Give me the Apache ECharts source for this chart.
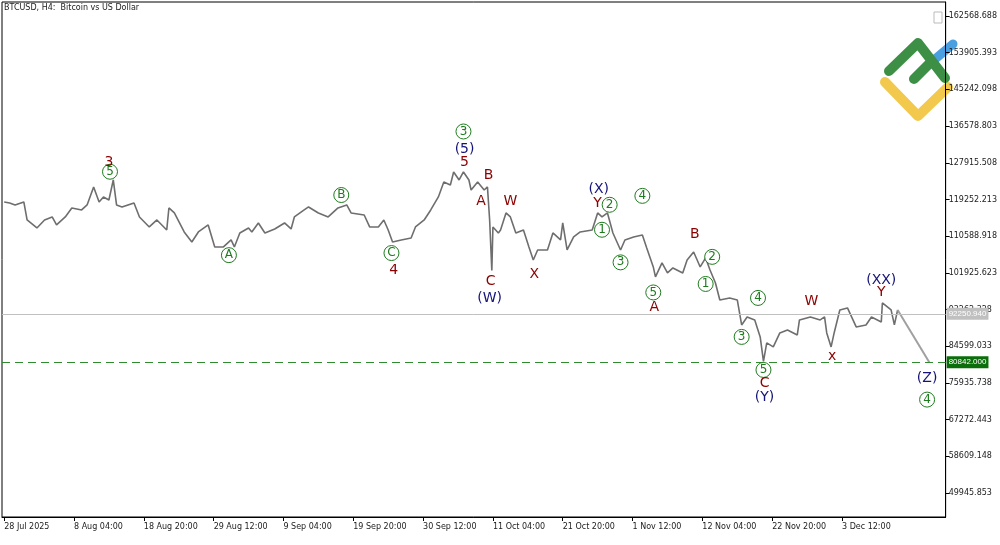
<!DOCTYPE html>
<html><head><meta charset="utf-8">
<script src="https://cdn.jsdelivr.net/npm/echarts@6/dist/echarts.min.js"></script>
<style>html,body{margin:0;padding:0;background:#fff}#c{width:1000px;height:545px}</style>
</head><body><div id="c"></div>
<script>
// bar index (H4 bars from 28 Jul 2025 00:00)
const barIdx = [0,5,10,18,21,30,37,44,48,56,62,71,76,82,87,91,96,100,103,108,119,124,133,140,149,151,156,165,172,178,187,193,201,208,211,216,224,227,233,239,248,257,263,266,275,279,288,297,306,314,318,330,335,343,348,352,356,364,373,377,385,391,398,403,409,412,417,421,426,428,434,440,443,445,447,448,453,455,460,464,469,476,481,485,489,498,503,510,512,516,522,528,539,544,548,553,558,565,569,577,585,589,595,597,603,608,613,622,626,632,638,643,647,652,656,665,672,676,681,688,693,696,699,705,711,718,727,729,739,748,752,754,758,761,766,773,781,790,795,804,805,813,816,819];
const closes = [118662,118426,117954,118662,114413,112525,114413,115122,113233,115122,117246,116774,117954,122203,118662,119842,119134,123855,117954,117482,118426,115122,112761,114413,112052,117246,116066,111580,109220,111580,113233,108039,108039,109692,108039,111344,112525,111580,113705,111344,112290,113705,112290,115122,116774,117482,116066,115122,117246,117954,116066,115594,112761,112761,114413,112052,109220,109692,110164,112761,114413,116774,119842,123383,122675,125743,123855,125743,123855,121494,123383,121494,122203,114413,102500,112761,111344,112052,116066,115122,111344,112052,108039,104971,107331,107331,111344,109692,113705,107331,110400,111580,112052,116066,115122,116066,111344,107331,109692,110400,110872,107803,103319,100958,104263,101902,103083,101902,104971,106859,103319,105443,102610,99541,95529,96001,95529,89627,91516,90807,86795,81000,85379,84435,87739,88447,87267,90807,91516,90807,91516,87739,84435,87975,93168,93640,89155,89627,91516,90335,94821,93168,89627,93168];
const lastPrice = 92250.940;
const targetPrice = 80842.000;
const projection = [[819, 93168], [848, 80842]];
const priceTicks = [49945.853,58609.148,67272.443,75935.738,84599.033,93262.328,101925.623,110588.918,119252.213,127915.508,136578.803,145242.098,153905.393,162568.688];
const timeTicks = [0,64,128,192,256,320,384,448,512,576,640,704,768];
const timeLabels = ['28 Jul 2025','8 Aug 04:00','18 Aug 20:00','29 Aug 12:00','9 Sep 04:00','19 Sep 20:00','30 Sep 12:00','11 Oct 04:00','21 Oct 20:00','1 Nov 12:00','12 Nov 04:00','22 Nov 20:00','3 Dec 12:00'];
// wave labels: [barIdx, price, text, kind]  kind: r=red, b=blue, g=circled green
const waves = [
 [96,128100,'3','r'],[97,125800,'5','g'],
 [206,106100,'A','g'],[309,120300,'B','g'],[355,106600,'C','g'],[357,102600,'4','r'],
 [421,135300,'3','g'],[422,131000,'(5)','b'],[422,128000,'5','r'],
 [444,125000,'B','r'],[437,118900,'A','r'],[446,100000,'C','r'],[445,95800,'(W)','b'],
 [464,118700,'W','r'],[486,101500,'X','r'],
 [545,121700,'(X)','b'],[544,118400,'Y','r'],[555,118000,'2','g'],[548,112100,'1','g'],
 [565,104400,'3','g'],[585,120100,'4','g'],[595,97300,'5','g'],[596,93800,'A','r'],
 [633,111100,'B','r'],[649,105700,'2','g'],[643,99300,'1','g'],
 [691,96000,'4','g'],[676,86800,'3','g'],[696,79000,'5','g'],[697,75900,'C','r'],[697,72600,'(Y)','b'],
 [740,95300,'W','r'],[759,82200,'x','r'],[804,100200,'(XX)','b'],[804,97400,'Y','r'],
 [846,77100,'(Z)','b'],[846,72000,'4','g']
];
const colors = {r:'#8b0000', b:'#141478', g:'#1e7b1e'};
const chart = echarts.init(document.getElementById('c'));
chart.setOption({
 animation:false,
 grid:{left:2,right:54,top:2,bottom:28,show:true,borderColor:'#000',borderWidth:1},
 xAxis:{type:'value',min:-2,max:863,
  axisLine:{show:true,onZero:false,lineStyle:{color:'#000'}},
  axisTick:{show:true,customValues:timeTicks,length:4,lineStyle:{color:'#000'}},
  splitLine:{show:false},
  axisLabel:{customValues:timeTicks,align:'left',fontSize:8,color:'#222',fontFamily:'DejaVu Sans',margin:6,
   formatter:v=>timeLabels[timeTicks.indexOf(v)]||''}},
 yAxis:{type:'value',position:'right',min:44280,max:165874,
  axisLine:{show:true,onZero:false,lineStyle:{color:'#000'}},
  axisTick:{show:true,customValues:priceTicks,length:4,inside:false,lineStyle:{color:'#000'}},
  splitLine:{show:false},
  axisLabel:{customValues:priceTicks,fontSize:8,color:'#222',fontFamily:'DejaVu Sans',margin:3,
   formatter:v=>v.toFixed(3)}},
 graphic:[
  {type:'text',left:4,top:4,style:{text:'BTCUSD, H4:  Bitcoin vs US Dollar',fontSize:8,fill:'#222',fontFamily:'DejaVu Sans'}},
  {type:'rect',shape:{x:934,y:12,width:8,height:11},style:{fill:'#fff',stroke:'#bbb'}},
  {type:'polyline',shape:{points:[[928,65],[953,44]]},style:{stroke:'#4a9fe0',lineWidth:9,lineCap:'round',fill:null}},
  {type:'polyline',shape:{points:[[885,82],[918,116],[948,87]]},style:{stroke:'#f2c94c',lineWidth:10,lineCap:'round',lineJoin:'round',fill:null}},
  {type:'polyline',shape:{points:[[889,71],[918,43],[945,78]]},style:{stroke:'#3d8f45',lineWidth:10,lineCap:'round',lineJoin:'round',fill:null}},
  {type:'polyline',shape:{points:[[914,79],[931,62]]},style:{stroke:'#3d8f45',lineWidth:10,lineCap:'round',fill:null}}
 ],
 series:[
  {type:'line',data:barIdx.map((x,i)=>[x,closes[i]]),showSymbol:false,lineStyle:{color:'#6e6e6e',width:1.6},z:3,
   markLine:{symbol:'none',silent:true,animation:false,data:[
    {yAxis:lastPrice,lineStyle:{color:'#c0c0c0',width:1,type:'solid'},
     label:{position:'end',formatter:lastPrice.toFixed(3),backgroundColor:'#c0c0c0',color:'#fff',fontSize:8,padding:[2,2],distance:1}},
    {yAxis:targetPrice,lineStyle:{color:'#2e8b2e',width:1,type:[8,5]},
     label:{position:'end',formatter:targetPrice.toFixed(3),backgroundColor:'#0a6e0a',color:'#fff',fontSize:8,padding:[2,2],distance:1}}]}},
  {type:'line',data:projection,showSymbol:false,lineStyle:{color:'#a0a0a0',width:2},z:3},
  {type:'scatter',z:5,data:waves.filter(w=>w[3]==='g').map(w=>({value:[w[0],w[1]],name:w[2]})),
   symbol:'circle',symbolSize:15,itemStyle:{color:'#fff',borderColor:'#1e7b1e',borderWidth:1,opacity:1},
   label:{show:true,position:'inside',formatter:p=>p.name,color:'#1e7b1e',fontSize:12,fontFamily:'DejaVu Sans'}},
  {type:'scatter',z:5,data:waves.filter(w=>w[3]!=='g').map(w=>({value:[w[0],w[1]],name:w[2],
    label:{color:colors[w[3]]}})),
   symbol:'circle',symbolSize:1,itemStyle:{color:'rgba(0,0,0,0)',opacity:1},
   label:{show:true,position:'inside',formatter:p=>p.name,fontSize:14,fontFamily:'DejaVu Sans'}}
 ]
});
</script></body></html>
